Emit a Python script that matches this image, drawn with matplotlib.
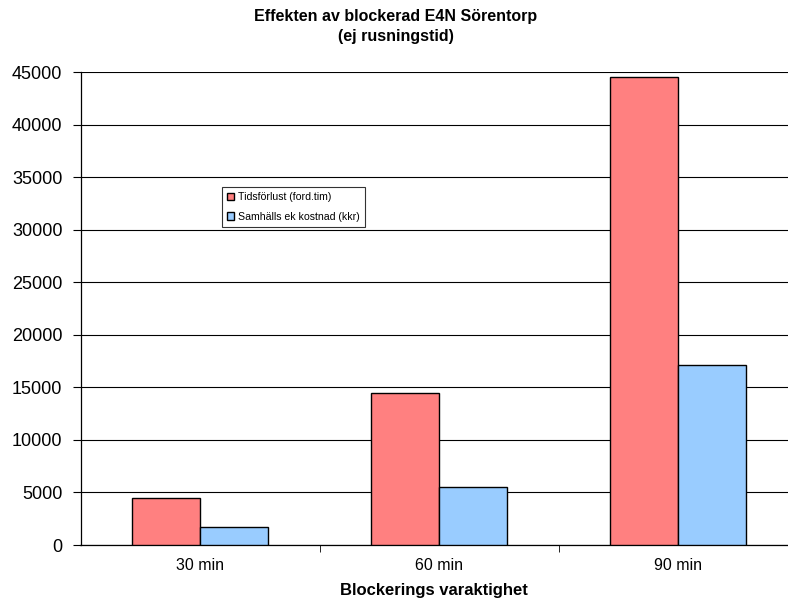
import numpy as np
import matplotlib
matplotlib.use("Agg")
import matplotlib.pyplot as plt

# data
categories = ['30 min', '60 min', '90 min']
tidsforlust = [4450, 14500, 44550]      # Tidsförlust (ford.tim)
samhalls_kostnad = [1750, 5550, 17100]  # Samhälls ek kostnad (kkr)
series_names = ['Tidsförlust (ford.tim)', 'Samhälls ek kostnad (kkr)']
y_ticks = [0, 5000, 10000, 15000, 20000, 25000, 30000, 35000, 40000, 45000]

plt.rcParams['font.family'] = ['Liberation Sans', 'DejaVu Sans']

fig = plt.figure(figsize=(7.88, 6.06), dpi=100)
W, H = 788, 606
# plot area runs past the right edge of the picture, like the original
ax = fig.add_axes([80.5 / W, (H - 545) / H, (797.5 - 80.5) / W, (545 - 72) / H])

x = np.arange(len(categories))
bw = 0.285
ax.bar(x - bw / 2, tidsforlust, bw, color='#FF8080', edgecolor='black', linewidth=1.0,
       label=series_names[0], zorder=3)
ax.bar(x + bw / 2, samhalls_kostnad, bw, color='#99CCFF', edgecolor='black', linewidth=1.0,
       label=series_names[1], zorder=3)

ax.set_xlim(-0.5, len(categories) - 0.5)
ax.set_ylim(0, 45000)
ax.set_yticks(y_ticks)
ax.set_yticklabels([str(v) for v in y_ticks], fontsize=13)
ax.yaxis.grid(True, color='black', linewidth=0.8, zorder=0)
ax.set_axisbelow(True)

# category labels in the middle, tick marks between categories
ax.set_xticks(x)
ax.set_xticklabels(categories, fontsize=11.5)
ax.tick_params(axis='x', length=0, pad=9)
ax.set_xticks(np.arange(len(categories) - 1) + 0.5, minor=True)
ax.tick_params(axis='x', which='minor', length=5, direction='out', color='black')
ax.tick_params(axis='y', length=6, direction='out', color='black', width=0.8, pad=7)

for s in ['top', 'right']:
    ax.spines[s].set_visible(False)
ax.spines['left'].set_linewidth(0.9)
ax.spines['bottom'].set_linewidth(0.9)

leg = ax.legend(loc='upper left', bbox_to_anchor=(0.197, 0.757), fontsize=7.6,
                frameon=True, fancybox=False, edgecolor='black', handlelength=0.7,
                handleheight=0.7, handletextpad=0.3, borderpad=0.5, labelspacing=0.9,
                borderaxespad=0)
leg.get_frame().set_linewidth(0.8)

fig.text(396 / W, 1 - 17 / H, 'Effekten av blockerad E4N Sörentorp', ha='center', va='center',
         fontsize=11.5, fontweight='bold')
fig.text(396 / W, 1 - 37 / H, '(ej rusningstid)', ha='center', va='center',
         fontsize=11.5, fontweight='bold')
fig.text(434 / W, 1 - 591 / H, 'Blockerings varaktighet', ha='center', va='center',
         fontsize=12, fontweight='bold')

fig.savefig('out.png', dpi=100)
